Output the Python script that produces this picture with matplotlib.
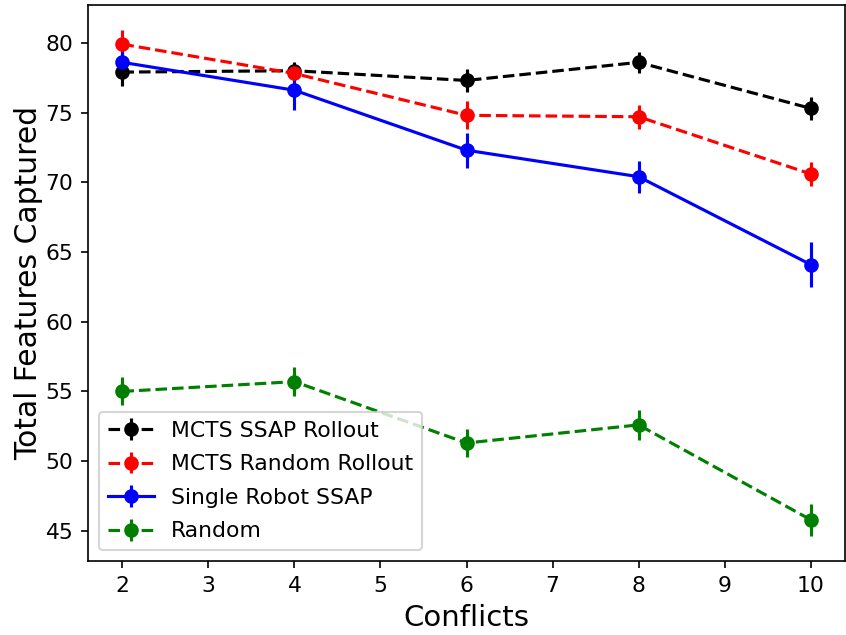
import matplotlib
matplotlib.use('Agg')
import matplotlib.pyplot as plt

# Conflicts on the x axis
conflicts = [2, 4, 6, 8, 10]

# Mean features captured and error bars for each method
ssap_rollout = [77.9, 78.0, 77.3, 78.6, 75.3]
ssap_rollout_err = [1.0, 0.6, 0.8, 0.75, 0.85]

random_rollout = [79.9, 77.8, 74.8, 74.7, 70.6]
random_rollout_err = [1.0, 0.6, 1.0, 0.85, 0.85]

single_robot = [78.6, 76.6, 72.3, 70.4, 64.1]
single_robot_err = [0.9, 1.4, 1.25, 1.15, 1.6]

random_policy = [55.0, 55.7, 51.3, 52.6, 45.8]
random_policy_err = [1.0, 1.05, 1.0, 1.1, 1.15]

W, H = 846, 635
fig = plt.figure(figsize=(W / 150, H / 150), dpi=150)
ax = fig.add_axes([88 / W, (H - 561) / H, 757 / W, 556 / H])

ax.errorbar(conflicts, ssap_rollout, yerr=ssap_rollout_err, fmt='o--', color='black', label='MCTS SSAP Rollout')
ax.errorbar(conflicts, random_rollout, yerr=random_rollout_err, fmt='o--', color='red', label='MCTS Random Rollout')
ax.errorbar(conflicts, single_robot, yerr=single_robot_err, fmt='o-', color='blue', label='Single Robot SSAP')
ax.errorbar(conflicts, random_policy, yerr=random_policy_err, fmt='o--', color='green', label='Random')

ax.set_xlabel('Conflicts', fontsize=14)
ax.set_ylabel('Total Features Captured', fontsize=14.3, labelpad=1)
ax.tick_params(labelsize=10.5)
ax.legend(loc='lower left', fontsize=10.5, labelspacing=0.62, handlelength=2.1)

fig.savefig('out.png', dpi=150)
